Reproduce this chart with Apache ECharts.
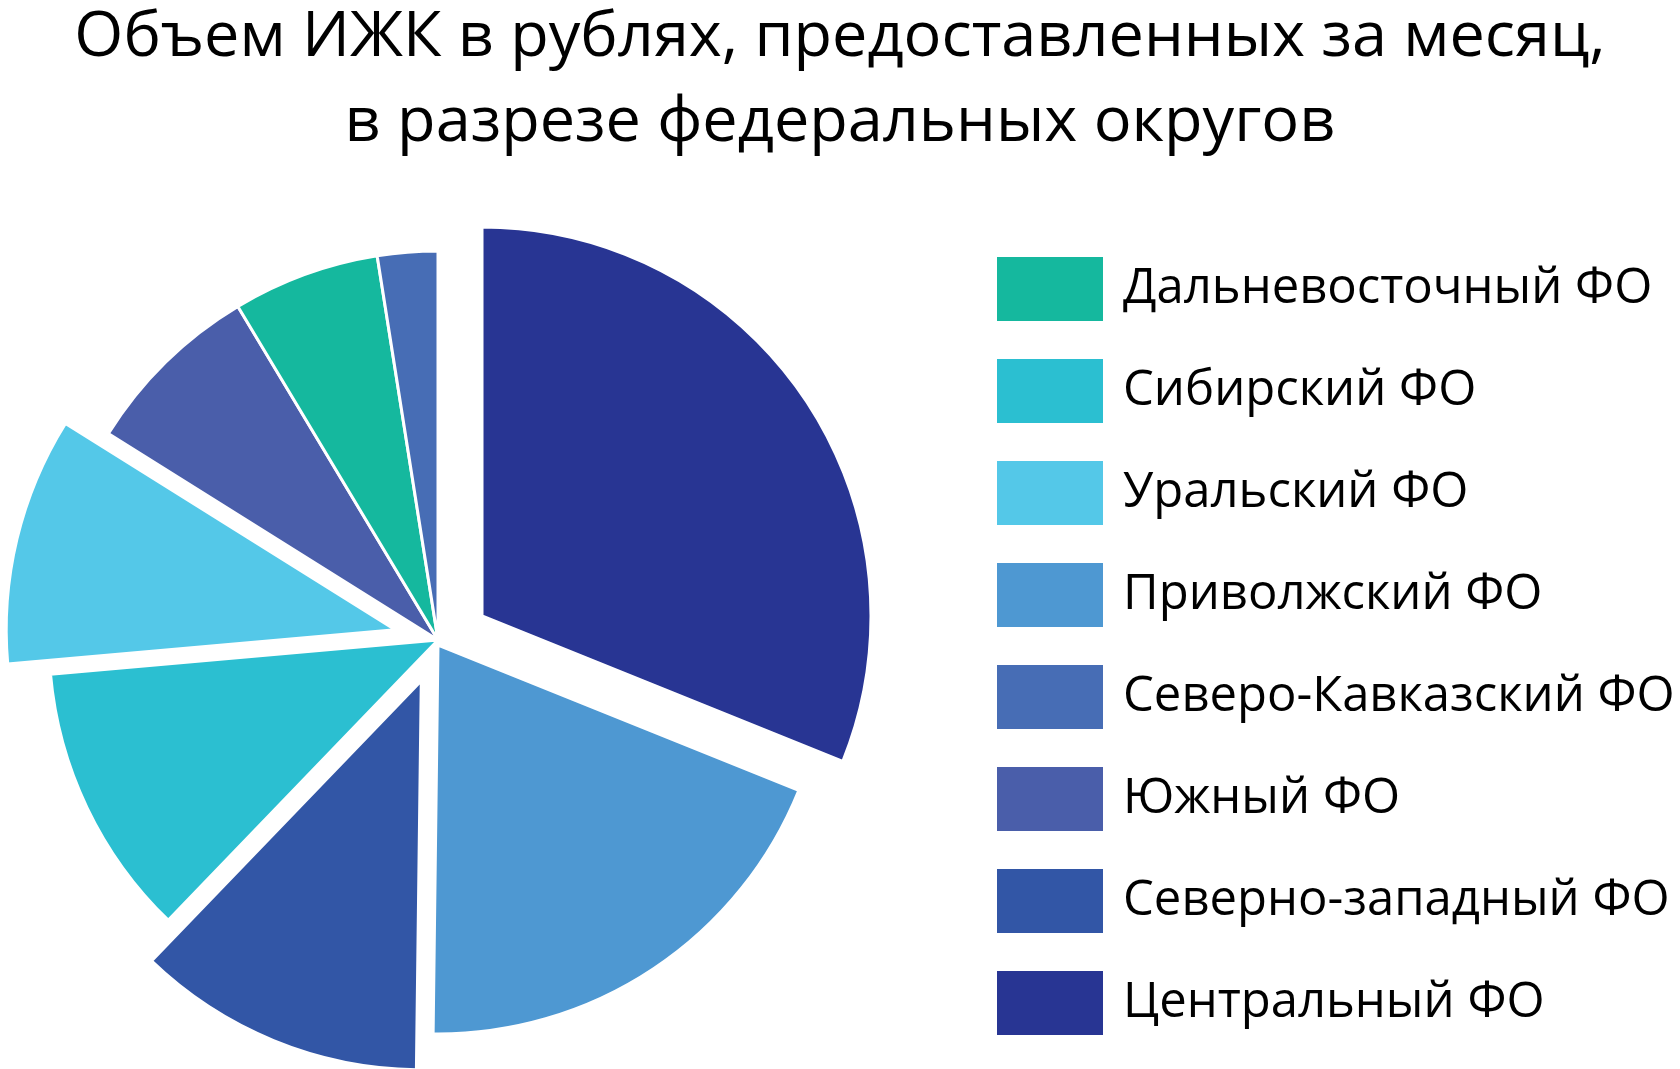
<!DOCTYPE html>
<html>
<head>
<meta charset="utf-8">
<script src="https://cdn.jsdelivr.net/npm/echarts@6/dist/echarts.min.js"></script>
<style>
html,body{margin:0;padding:0;background:#fff;}
#chart{width:1680px;height:1069px;}
</style>
</head>
<body>
<div id="chart"></div>
<script>
// Data (clockwise from 12 o'clock), shares in %
const regions = ['Центральный ФО','Приволжский ФО','Северно-западный ФО','Сибирский ФО','Уральский ФО','Южный ФО','Дальневосточный ФО','Северо-Кавказский ФО'];
const shares = [31.1, 19.1, 12.0, 11.4, 10.3, 7.5, 6.1, 2.5];
const legendOrder = ['Дальневосточный ФО','Сибирский ФО','Уральский ФО','Приволжский ФО','Северо-Кавказский ФО','Южный ФО','Северно-западный ФО','Центральный ФО'];
const explodedRegions = ['Северно-западный ФО','Уральский ФО'];
const titleText = 'Объем ИЖК в рублях, предоставленных за месяц,\nв разрезе федеральных округов';

// Styles
const palette = {
  'Центральный ФО': '#283593',
  'Приволжский ФО': '#4E98D2',
  'Северно-западный ФО': '#3256A6',
  'Сибирский ФО': '#2BBFD1',
  'Уральский ФО': '#54C8E8',
  'Южный ФО': '#4A5EAA',
  'Дальневосточный ФО': '#15B89E',
  'Северо-Кавказский ФО': '#476DB5'
};
const FONT = '"Open Sans", "Noto Sans", sans-serif';
const HIDDEN = 'rgba(0,0,0,0)';
const CX = 438, CY = 640, R = 389;
// slices drawn with their own shifted centre (dx, dy in px)
const detachedShift = {
  'Центральный ФО': [44, -24],
  'Приволжский ФО': [0, 5]
};

function pieSeries(visible, offset, selectedSet, center) {
  return {
    type: 'pie',
    center: center,
    radius: R,
    startAngle: 90,
    clockwise: true,
    selectedMode: 'multiple',
    selectedOffset: offset,
    avoidLabelOverlap: false,
    label: {show: false},
    labelLine: {show: false},
    emphasis: {disabled: true},
    tooltip: {show: false},
    data: regions.map((r, i) => {
      const on = visible(r);
      return {
        name: r,
        value: shares[i],
        selected: on && selectedSet.includes(r),
        itemStyle: on
          ? {color: palette[r], borderColor: '#ffffff', borderWidth: 3}
          : {color: HIDDEN, borderColor: HIDDEN, borderWidth: 0}
      };
    })
  };
}

const detachedNames = Object.keys(detachedShift);
const series = [
  pieSeries(r => !detachedNames.includes(r), 44, explodedRegions, [CX, CY])
].concat(detachedNames.map(name =>
  pieSeries(r => r === name, 0, [], [CX + detachedShift[name][0], CY + detachedShift[name][1]])
));

const chart = echarts.init(document.getElementById('chart'), null, {renderer: 'canvas'});
const option = {
  animation: false,
  backgroundColor: '#ffffff',
  title: {
    text: titleText,
    left: 'center',
    top: -4,
    padding: [0, 0, 0, 14],
    textStyle: {
      fontFamily: FONT,
      fontSize: 63,
      fontWeight: 'normal',
      color: '#000000',
      lineHeight: 85
    }
  },
  legend: {
    orient: 'vertical',
    left: 997,
    top: 257,
    padding: 0,
    icon: 'rect',
    itemWidth: 106,
    itemHeight: 64,
    itemGap: 38,
    selectedMode: false,
    data: legendOrder.map(r => ({name: r, itemStyle: {color: palette[r], borderWidth: 0}})),
    itemStyle: {borderWidth: 0},
    textStyle: {
      fontFamily: FONT,
      fontSize: 49,
      color: '#000000',
      padding: [0, 0, 0, 15]
    }
  },
  series: series
};
chart.setOption(option);
</script>
</body>
</html>
